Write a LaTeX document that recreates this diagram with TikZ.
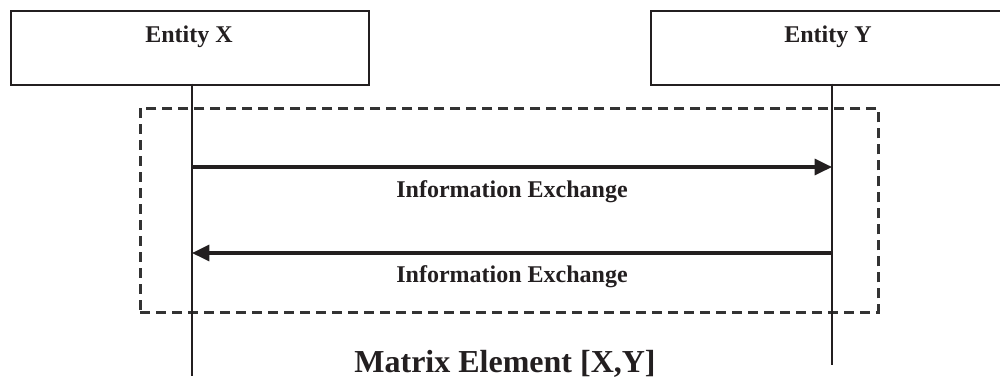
\documentclass[tikz,border=0pt]{standalone}
\usepackage{fontspec}
\setmainfont{Liberation Serif}
\usetikzlibrary{arrows.meta}
\definecolor{ink}{HTML}{231F20}
\definecolor{dashink}{HTML}{333333}
\tikzset{
  entitybox/.style={draw=ink, line width=1.6pt, rectangle, inner sep=0pt, anchor=north west},
  entitylabel/.style={font=\bfseries\fontsize{18}{20}\selectfont, text=ink, inner sep=0pt},
  lifeline/.style={draw=ink, line width=1.1pt},
  message/.style={draw=ink, line width=2.4pt, -{Triangle[length=13pt,width=12pt]}},
  msglabel/.style={font=\bfseries\fontsize{18}{20}\selectfont, text=ink, inner sep=0pt},
  groupbox/.style={draw=dashink, line width=2.2pt, dash pattern=on 7.5pt off 4.5pt, rectangle, inner sep=0pt, anchor=north west},
  caption/.style={font=\bfseries\fontsize{24}{26}\selectfont, text=ink, inner sep=0pt, anchor=base}
}
\begin{document}
\begin{tikzpicture}[x=0.75pt,y=-0.75pt]
  \useasboundingbox (0,0) rectangle (1000,380);

  % participants
  \node[entitybox, minimum width=358*0.75pt, minimum height=74*0.75pt] (bx) at (10,9.5) {};
  \node[entitybox, minimum width=380*0.75pt, minimum height=74*0.75pt] (by) at (650,9.5) {};
  \node[entitylabel] (lx) at (189,37) {Entity X};
  \node[entitylabel] (ly) at (828,37) {Entity Y};

  % lifeline ends
  \coordinate (xtop) at (192,83.5);
  \coordinate (ytop) at (832,83.5);
  \coordinate (xend) at (192,376);
  \coordinate (yend) at (832,365);
  \coordinate (x1) at (192,167);
  \coordinate (y1) at (832,167);
  \coordinate (x2) at (192,253);
  \coordinate (y2) at (832,253);

  % grouping frame
  \node[groupbox, minimum width=738*0.75pt, minimum height=204*0.75pt] (grp) at (139,107) {};

  % lifelines
  \draw[lifeline] (xtop) -- (xend);
  \draw[lifeline] (ytop) -- (yend);

  % messages
  \draw[message] (x1) -- (y1);
  \draw[message] (y2) -- (x2);
  \node[msglabel] (m1) at (512,192) {Information Exchange};
  \node[msglabel] (m2) at (512,277) {Information Exchange};

  % caption
  \node[caption] (cap) at (505,372) {Matrix Element [X,Y]};
\end{tikzpicture}
\end{document}
